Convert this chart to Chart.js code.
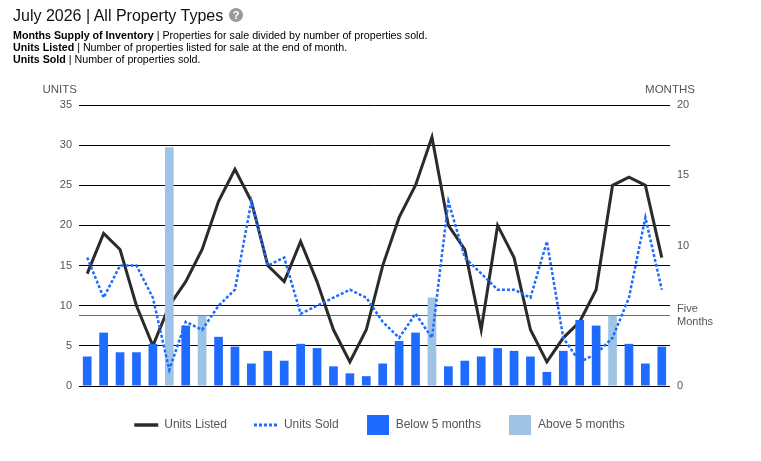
<!DOCTYPE html>
<html>
<head>
<meta charset="utf-8">
<script src="https://cdn.jsdelivr.net/npm/chart.js@4.4.1/dist/chart.umd.min.js"></script>
<style>
  body { margin: 0; background: #fff; font-family: Arial, "Liberation Sans", sans-serif; }
  #page { position: relative; width: 761px; height: 461px; overflow: hidden; }
  #chart { position: absolute; left: 0; top: 0; }
  .title { position: absolute; left: 13px; top: 6px; font-size: 16px; line-height: 20px; color: #111; white-space: nowrap; z-index: 2; }
  .help { position: absolute; left: 229px; top: 8px; width: 14px; height: 14px; border-radius: 50%; background: #9a9a9a; color: #fff; font-size: 11px; font-weight: bold; line-height: 14px; text-align: center; z-index: 2; }
  .desc { position: absolute; left: 13px; top: 29px; font-size: 10.7px; line-height: 12px; color: #000; white-space: nowrap; z-index: 2; }
  .desc b { font-weight: bold; }
</style>
</head>
<body>
<div id="page">
  <canvas id="chart" width="761" height="461"></canvas>
  <div class="title">July 2026 | All Property Types</div>
  <div class="help">?</div>
  <div class="desc">
    <div><b>Months Supply of Inventory</b> | Properties for sale divided by number of properties sold.</div>
    <div><b>Units Listed</b> | Number of properties listed for sale at the end of month.</div>
    <div><b>Units Sold</b> | Number of properties sold.</div>
  </div>
</div>
<script>
// categories
const months = ['Aug-23','Sep-23','Oct-23','Nov-23','Dec-23','Jan-24','Feb-24','Mar-24','Apr-24','May-24','Jun-24','Jul-24',
                'Aug-24','Sep-24','Oct-24','Nov-24','Dec-24','Jan-25','Feb-25','Mar-25','Apr-25','May-25','Jun-25','Jul-25',
                'Aug-25','Sep-25','Oct-25','Nov-25','Dec-25','Jan-26','Feb-26','Mar-26','Apr-26','May-26','Jun-26','Jul-26'];
const xTickLabels = ['Aug-23','Jan-24','Jun-24','Nov-24','Apr-25','Sep-25','Feb-26','Jul-26'];

// series (left axis, units)
const unitsListed = [14,19,17,10,5,10,13,17,23,27,23,15,13,18,13,7,3,7,15,21,25,31,20,17,7,20,16,7,3,6,8,12,25,26,25,16];
const unitsSold   = [16,11,15,15,11,2,8,7,10,12,23,15,16,9,10,11,12,11,8,6,9,6,23,16,14,12,12,11,18,6,3,4,6,11,21,12];

// months supply (right axis, months)
const monthsSupply = [2.1,3.8,2.4,2.4,3.0,17.0,4.3,5.0,3.5,2.8,1.6,2.5,1.8,3.0,2.7,1.4,0.9,0.7,1.6,3.2,3.8,6.3,1.4,1.8,
                      2.1,2.7,2.5,2.1,1.0,2.5,4.7,4.3,5.0,3.0,1.6,2.8];
const fiveMonths = 5;
const rightTicks = [0, 5, 10, 15, 20];

const BLUE = '#1f6bff';
const LIGHT = '#9fc3e5';
const DARK = '#2b2b2b';
const GREY_TXT = '#555';

function swatch(color) {
    const c = document.createElement('canvas');
    c.width = 22;
    c.height = 20;
    const g = c.getContext('2d');
    g.fillStyle = color;
    g.fillRect(0, 0, 22, 20);
    return c;
}

const axisCaptions = {
    id: 'axisCaptions',
    afterDraw(chart) {
        const { ctx, chartArea } = chart;
        ctx.save();
        ctx.font = '11.5px Arial, "Liberation Sans", sans-serif';
        ctx.fillStyle = GREY_TXT;
        ctx.textBaseline = 'middle';
        ctx.textAlign = 'right';
        ctx.fillText('UNITS', chartArea.left - 2, chartArea.top - 15);
        ctx.textAlign = 'center';
        ctx.fillText('MONTHS', chartArea.right, chartArea.top - 15);
        ctx.restore();
    }
};

Chart.defaults.font.family = 'Arial, "Liberation Sans", sans-serif';
Chart.defaults.color = GREY_TXT;

new Chart(document.getElementById('chart').getContext('2d'), {
    type: 'bar',
    data: {
        labels: months,
        datasets: [
            {
                type: 'line',
                label: 'Units Listed',
                data: unitsListed,
                yAxisID: 'y',
                borderColor: DARK,
                backgroundColor: DARK,
                borderWidth: 3,
                pointRadius: 0,
                pointStyle: 'line',
                tension: 0,
                order: 3
            },
            {
                type: 'line',
                label: 'Units Sold',
                data: unitsSold,
                yAxisID: 'y',
                borderColor: BLUE,
                backgroundColor: BLUE,
                borderWidth: 2.5,
                borderDash: [3, 2],
                pointRadius: 0,
                pointStyle: 'line',
                tension: 0,
                order: 0
            },
            {
                label: 'Below 5 months',
                data: monthsSupply.map(v => v < fiveMonths ? v : null),
                yAxisID: 'y1',
                backgroundColor: BLUE,
                borderWidth: 0,
                grouped: false,
                barPercentage: 0.53,
                categoryPercentage: 1.0,
                pointStyle: swatch(BLUE),
                order: 1
            },
            {
                label: 'Above 5 months',
                data: monthsSupply.map(v => v >= fiveMonths ? v : null),
                yAxisID: 'y1',
                backgroundColor: LIGHT,
                borderWidth: 0,
                grouped: false,
                barPercentage: 0.53,
                categoryPercentage: 1.0,
                pointStyle: swatch(LIGHT),
                order: 1
            }
        ]
    },
    options: {
        responsive: false,
        animation: false,
        layout: { padding: { top: 105, left: 39, right: 41, bottom: 20 } },
        plugins: {
            tooltip: { enabled: false },
            legend: {
                position: 'bottom',
                labels: {
                    usePointStyle: true,
                    pointStyleWidth: 24,
                    padding: 27,
                    color: GREY_TXT,
                    font: { size: 12 },
                    sort: (a, b) => a.datasetIndex - b.datasetIndex,
                    generateLabels: chart => {
                        const items = Chart.defaults.plugins.legend.labels.generateLabels(chart);
                        items.forEach(it => {
                            const ds = chart.data.datasets[it.datasetIndex];
                            if (ds.type === 'line') {
                                it.lineWidth = ds.borderWidth + 0.5;
                                it.strokeStyle = ds.borderColor;
                                it.lineDash = ds.borderDash || [];
                            }
                        });
                        return items;
                    }
                }
            }
        },
        scales: {
            x: {
                grid: { display: false, drawTicks: false },
                border: { display: false },
                ticks: {
                    autoSkip: false,
                    maxRotation: 0,
                    minRotation: 0,
                    padding: 5,
                    color: GREY_TXT,
                    font: { size: 11 },
                    callback: (v, i) => xTickLabels.includes(months[i]) ? months[i] : ''
                },
                afterFit: s => { s.height = 6; }
            },
            y: {
                position: 'left',
                min: 0,
                max: 35,
                ticks: { stepSize: 5, padding: 7, color: GREY_TXT, font: { size: 11 } },
                grid: { color: '#000', lineWidth: 1, drawTicks: false },
                border: { display: false },
                afterFit: s => { s.width = 40; }
            },
            y1: {
                position: 'right',
                min: 0,
                max: 20,
                afterBuildTicks: s => { s.ticks = rightTicks.map(v => ({ value: v })); },
                ticks: {
                    padding: 7,
                    color: GREY_TXT,
                    font: { size: 11 },
                    callback: v => v === fiveMonths ? ['Five', 'Months'] : v
                },
                grid: {
                    drawTicks: false,
                    lineWidth: 1,
                    color: c => (c.tick && c.tick.value === fiveMonths) ? '#6b6b6b' : 'rgba(0,0,0,0)'
                },
                border: { display: false },
                afterFit: s => { s.width = 50; }
            }
        }
    },
    plugins: [axisCaptions]
});
</script>
</body>
</html>
